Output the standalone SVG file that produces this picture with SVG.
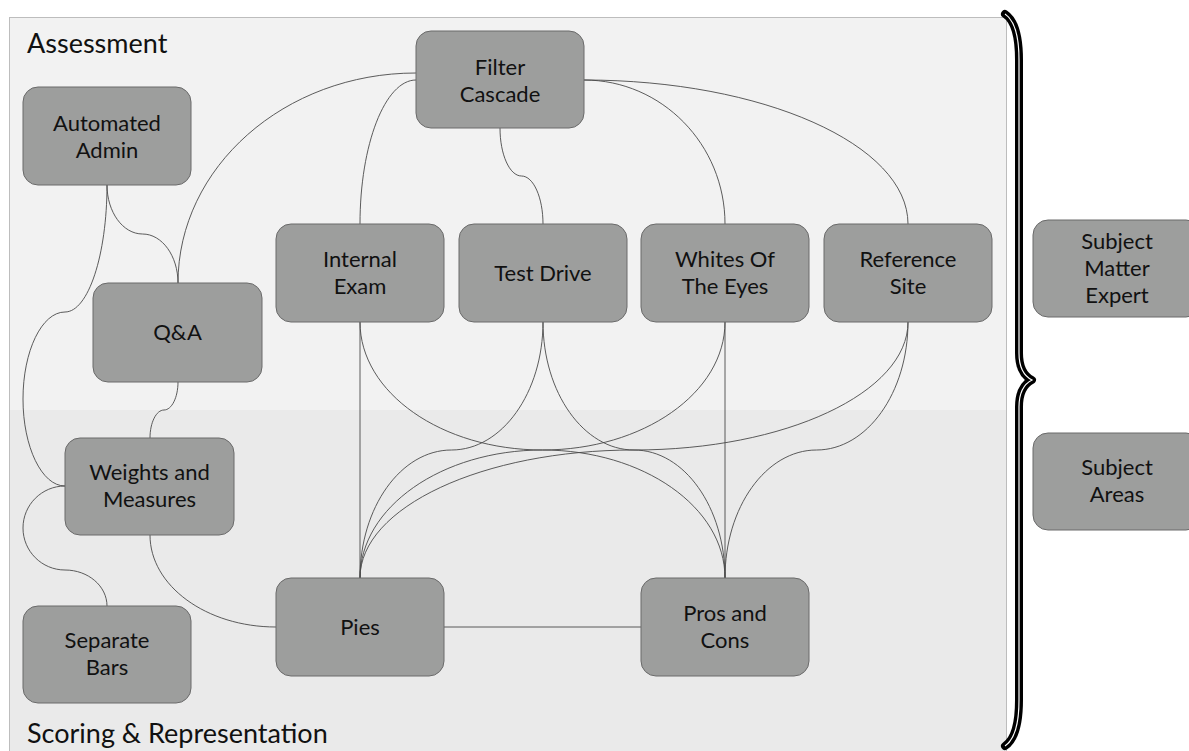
<svg xmlns="http://www.w3.org/2000/svg" width="1189" height="751" viewBox="0 0 1189 751">
<style>
.node rect{fill:#9d9e9d;stroke:#6a6a6a;stroke-width:1}
.node text{font-family:Lato,"Open Sans","Liberation Sans",sans-serif;font-size:22px;fill:#111;text-anchor:middle}
.edge path{fill:none;stroke:#4a4a4a;stroke-width:0.9}
.title{font-family:Lato,"Open Sans","Liberation Sans",sans-serif;font-size:27px;fill:#111}
</style>
<rect width="1189" height="751" fill="#ffffff"/>
<g id="panel">
<rect x="9.5" y="17.5" width="997" height="740" fill="#f2f2f2" stroke="#bdbdbd" stroke-width="1"/>
<rect x="10" y="410" width="996" height="341" fill="#eaeaea"/>
<text class="title" x="27" y="53">Assessment</text>
<text class="title" x="27" y="743">Scoring &amp; Representation</text>
</g>
<g id="brace">
<path d="M1005,14 C1014,20 1019,35 1019,60 L1019,353 C1019,368 1024,376 1032,380 C1024,384 1019,392 1019,407 L1019,700 C1019,725 1014,740 1005,746" fill="none" stroke="#000" stroke-width="8" stroke-linejoin="round" stroke-linecap="round"/>
<path d="M1005,14 C1014,20 1019,35 1019,60 L1019,353 C1019,368 1024,376 1032,380 C1024,384 1019,392 1019,407 L1019,700 C1019,725 1014,740 1005,746" fill="none" stroke="#fff" stroke-width="1.2"/>
</g>
<g id="connectors" class="edge">
<path d="M416,73 C284.6,73 178,167.1 178,283"/>
<path d="M416,80 C385.1,80 360,144.5 360,224"/>
<path d="M500,128 C500,154.5 509.6,176 521.5,176 C533.4,176 543,197.5 543,224"/>
<path d="M584,80 C661.8,80 725,144.5 725,224"/>
<path d="M584,80 C762.8,80 908,144.5 908,224"/>
<path d="M107,185 C107,212 122.9,234 142.5,234 C162.1,234 178,256 178,283"/>
<path d="M107,185 C107,255 88.2,312 65,312 C41.8,312 23,351 23,399 C23,447 41.8,486 65,486"/>
<path d="M178,382 C178,397.5 171.7,410 164,410 C156.3,410 150,422.5 150,438"/>
<path d="M65,486 C41.8,486 23,504.8 23,528 C23,551.2 41.8,570 65,570 C88.2,570 107,586.1 107,606"/>
<path d="M150,535 C150,585.8 206.4,627 276,627"/>
<path d="M444,627 L641,627"/>
<path d="M360,322 L360,578"/>
<path d="M360,322 C360,392.7 441.8,450 542.5,450 C643.2,450 725,507.3 725,578"/>
<path d="M543,322 C543,392.7 502,450 451.5,450 C401,450 360,507.3 360,578"/>
<path d="M543,322 C543,392.7 583.8,450 634,450 C684.2,450 725,507.3 725,578"/>
<path d="M725,322 C725,392.7 643.2,450 542.5,450 C441.8,450 360,507.3 360,578"/>
<path d="M725,322 L725,578"/>
<path d="M908,322 C908,392.7 785.2,450 634,450 C482.8,450 360,507.3 360,578"/>
<path d="M908,322 C908,392.7 867,450 816.5,450 C766,450 725,507.3 725,578"/>
</g>
<g id="filter-cascade" class="node"><rect x="416" y="31" width="168" height="97" rx="15"/><text x="500" y="75">Filter</text><text x="500" y="102">Cascade</text></g>
<g id="automated-admin" class="node"><rect x="23" y="87" width="168" height="98" rx="15"/><text x="107" y="131">Automated</text><text x="107" y="158">Admin</text></g>
<g id="qa" class="node"><rect x="93" y="283" width="169" height="99" rx="15"/><text x="177.5" y="340">Q&amp;A</text></g>
<g id="internal-exam" class="node"><rect x="276" y="224" width="168" height="98" rx="15"/><text x="360" y="267">Internal</text><text x="360" y="294">Exam</text></g>
<g id="test-drive" class="node"><rect x="459" y="224" width="168" height="98" rx="15"/><text x="543" y="281">Test Drive</text></g>
<g id="whites-of-the-eyes" class="node"><rect x="641" y="224" width="168" height="98" rx="15"/><text x="725" y="267">Whites Of</text><text x="725" y="294">The Eyes</text></g>
<g id="reference-site" class="node"><rect x="824" y="224" width="168" height="98" rx="15"/><text x="908" y="267">Reference</text><text x="908" y="294">Site</text></g>
<g id="weights-and-measures" class="node"><rect x="65" y="438" width="169" height="97" rx="15"/><text x="149.5" y="480">Weights and</text><text x="149.5" y="507">Measures</text></g>
<g id="separate-bars" class="node"><rect x="23" y="606" width="168" height="97" rx="15"/><text x="107" y="648">Separate</text><text x="107" y="675">Bars</text></g>
<g id="pies" class="node"><rect x="276" y="578" width="168" height="98" rx="15"/><text x="360" y="634.5">Pies</text></g>
<g id="pros-and-cons" class="node"><rect x="641" y="578" width="168" height="98" rx="15"/><text x="725" y="621">Pros and</text><text x="725" y="648">Cons</text></g>
<g id="subject-matter-expert" class="node"><rect x="1033" y="220" width="168" height="97" rx="15"/><text x="1117" y="249">Subject</text><text x="1117" y="276">Matter</text><text x="1117" y="303">Expert</text></g>
<g id="subject-areas" class="node"><rect x="1033" y="433" width="168" height="97" rx="15"/><text x="1117" y="475">Subject</text><text x="1117" y="502">Areas</text></g>
</svg>
